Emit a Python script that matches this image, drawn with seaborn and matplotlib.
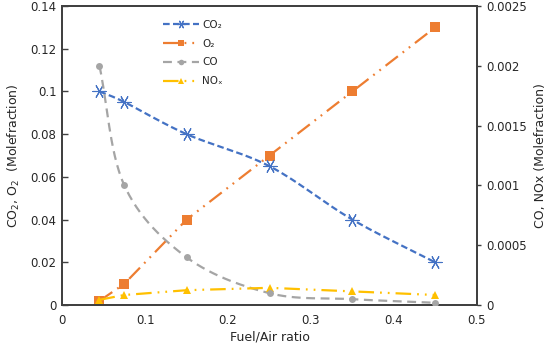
import numpy as np
import pandas as pd
import matplotlib
matplotlib.use("Agg")
import matplotlib.pyplot as plt
import seaborn as sns

# data
fuel_air = [0.045, 0.075, 0.15, 0.25, 0.35, 0.45]
co2 = [0.100, 0.095, 0.080, 0.065, 0.040, 0.020]
o2 = [0.002, 0.010, 0.040, 0.070, 0.100, 0.130]
co = [0.00200, 0.00100, 0.00040, 0.00010, 0.00005, 0.00002]
nox = [0.000045, 0.000085, 0.000125, 0.000145, 0.000115, 0.000085]

blue, orange, grey, gold = "#4472C4", "#ED7D31", "#A5A5A5", "#FFC000"
dash_blue = (0, (3, 1.5))
dash_grey = (0, (4, 2.5))
dash_dot_dot = (0, (7, 2.7, 0.8, 2.7, 0.8, 2.7))


def smooth(x, y, n=30):
    # Excel-like smoothed line (Catmull-Rom through the data points)
    x = np.asarray(x, float)
    y = np.asarray(y, float)
    px = np.concatenate([[2 * x[0] - x[1]], x, [2 * x[-1] - x[-2]]])
    py = np.concatenate([[2 * y[0] - y[1]], y, [2 * y[-1] - y[-2]]])
    xs, ys = [], []
    t = np.linspace(0, 1, n)
    for i in range(1, len(px) - 2):
        for p, out in ((px, xs), (py, ys)):
            p0, p1, p2, p3 = p[i - 1], p[i], p[i + 1], p[i + 2]
            c1 = p1 + (p2 - p0) / 6
            c2 = p2 - (p3 - p1) / 6
            out.extend((1 - t) ** 3 * p1 + 3 * (1 - t) ** 2 * t * c1 + 3 * (1 - t) * t ** 2 * c2 + t ** 3 * p2)
    return np.array(xs), np.array(ys)


sns.set_style("white")
plt.rcParams["font.family"] = ["DejaVu Sans"]

df = pd.DataFrame({"ratio": fuel_air, "CO2": co2, "O2": o2, "CO": co, "NOx": nox})

fig, ax = plt.subplots(figsize=(5.5, 3.46), dpi=100)
fig.subplots_adjust(left=0.113, right=0.867, top=0.983, bottom=0.118)
ax2 = ax.twinx()

# CO2 - smoothed dashed blue with star markers
sx, sy = smooth(df["ratio"], df["CO2"])
sns.lineplot(x=sx, y=sy, ax=ax, color=blue, lw=1.6, linestyle=dash_blue, sort=False)
sns.scatterplot(data=df, x="ratio", y="CO2", ax=ax, marker=(6, 2, 90), s=90, color=blue, linewidth=0.8, zorder=3)

# O2 - dash-dot-dot orange with squares
sns.lineplot(data=df, x="ratio", y="O2", ax=ax, color=orange, lw=1.6, linestyle=dash_dot_dot,
             marker="s", markersize=7, markeredgewidth=0)

# CO - smoothed dashed grey with circles
sx, sy = smooth(df["ratio"], df["CO"])
sns.lineplot(x=sx, y=sy, ax=ax2, color=grey, lw=1.6, linestyle=dash_grey, sort=False)
sns.scatterplot(data=df, x="ratio", y="CO", ax=ax2, marker="o", s=25, color=grey, linewidth=0, zorder=3)

# NOx - dash-dot-dot gold with triangles
sns.lineplot(data=df, x="ratio", y="NOx", ax=ax2, color=gold, lw=1.6, linestyle=dash_dot_dot,
             marker="^", markersize=6, markeredgewidth=0)

ax.set_xlim(0, 0.5)
ax.set_ylim(0, 0.14)
ax2.set_ylim(0, 0.0025)
ax.set_xticks(np.arange(0, 0.51, 0.1))
ax.set_xticklabels(["0", "0.1", "0.2", "0.3", "0.4", "0.5"])
ax.set_yticks(np.arange(0, 0.141, 0.02))
ax.set_yticklabels(["0", "0.02", "0.04", "0.06", "0.08", "0.1", "0.12", "0.14"])
ax2.set_yticks(np.arange(0, 0.00251, 0.0005))
ax2.set_yticklabels(["0", "0.0005", "0.001", "0.0015", "0.002", "0.0025"])

ax.set_xlabel("Fuel/Air ratio", fontsize=9, labelpad=3)
ax.set_ylabel("CO$_2$, O$_2$  (Molefraction)", fontsize=9, labelpad=6)
ax2.set_ylabel("CO, NOx (Molefraction)", fontsize=9, labelpad=5)

for a in (ax, ax2):
    for s in a.spines.values():
        s.set_color("#404040")
        s.set_linewidth(1.3)
ax.tick_params(axis="both", direction="in", length=4, width=1, color="#404040", labelsize=8.5, pad=4)
ax2.tick_params(axis="y", direction="out", length=3, width=1, color="#404040", labelsize=8.5, pad=4)
ax.tick_params(axis="x", pad=6)

handles = [
    plt.Line2D([], [], color=blue, lw=1.6, linestyle=dash_blue, marker=(6, 2, 90), markersize=6, markeredgewidth=0.8),
    plt.Line2D([], [], color=orange, lw=1.6, linestyle=dash_dot_dot, marker="s", markersize=5, markeredgewidth=0),
    plt.Line2D([], [], color=grey, lw=1.6, linestyle=dash_grey, marker="o", markersize=4, markeredgewidth=0),
    plt.Line2D([], [], color=gold, lw=1.6, linestyle=dash_dot_dot, marker="^", markersize=4, markeredgewidth=0),
]
ax.legend(handles, ["CO₂", "O₂", "CO", "NOₓ"], loc="upper left", bbox_to_anchor=(0.22, 0.985),
          frameon=False, fontsize=7.5, handlelength=3.5, labelspacing=0.85, handletextpad=0.3)

fig.savefig("out.png", dpi=100)
